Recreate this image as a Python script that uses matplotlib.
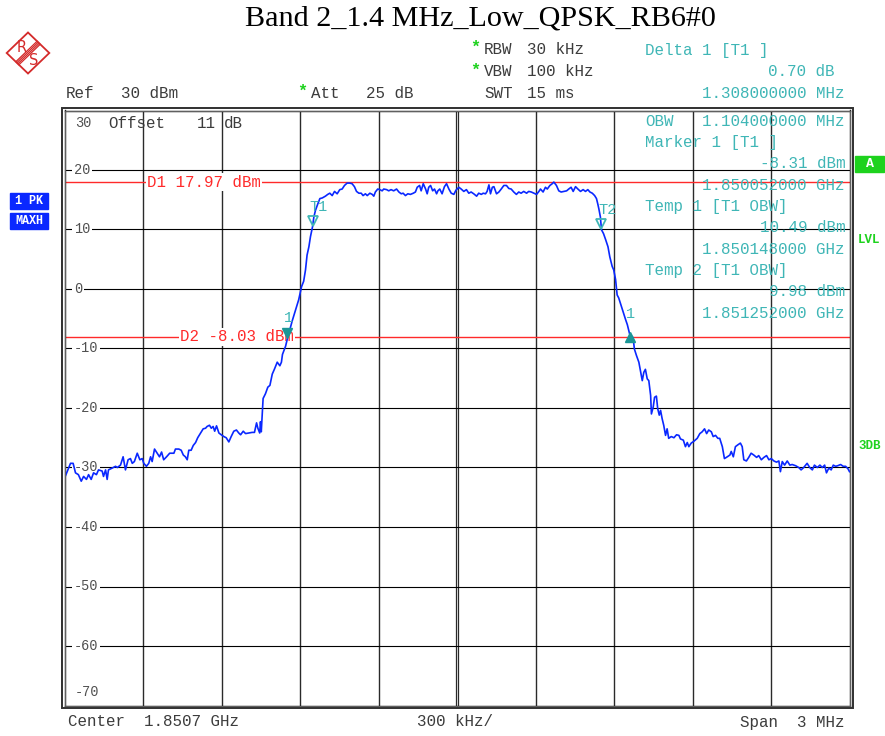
import numpy as np
import matplotlib
matplotlib.use("Agg")
import matplotlib.pyplot as plt
from matplotlib import transforms as mtrans
from matplotlib.patches import Polygon, Rectangle

# ---------------- data ----------------
title = "Band 2_1.4 MHz_Low_QPSK_RB6#0"
center_ghz = 1.8507
span_khz = 3000
div_khz = 300
y_ticks = [20, 10, 0, -10, -20, -30, -40, -50, -60]
y_top, y_bottom = 30, -70

# trace: frequency offset from centre (kHz) and level (dBm)
freq_khz = [
    -1500, -1477, -1467, -1458, -1447, -1436, -1427, -1416, -1408, -1398,
    -1389, -1378, -1370, -1356, -1351, -1343, -1337, -1332, -1318, -1305,
    -1298, -1286, -1276, -1267, -1257, -1248, -1241, -1233, -1222, -1212,
    -1203, -1197, -1187, -1178, -1171, -1165, -1156, -1146, -1137, -1129,
    -1121, -1110, -1098, -1082, -1076, -1063, -1054, -1046, -1038, -1031,
    -1025, -1016, -1008, -999, -991, -980, -970, -961, -955, -946,
    -939, -932, -926, -919, -910, -901, -891, -882, -872, -863,
    -853, -843, -834, -827, -817, -808, -796, -783, -774, -766,
    -761, -754, -751, -748, -741, -732, -723, -715, -706, -698,
    -687, -677, -671, -667, -655, -648, -630, -617, -605, -594,
    -586, -579, -573, -566, -560, -552, -547, -541, -532, -524,
    -515, -503, -494, -486, -477, -468, -458, -448, -439, -430,
    -420, -410, -401, -392, -384, -375, -366, -359, -350, -343,
    -333, -324, -318, -312, -303, -295, -286, -280, -269, -261,
    -252, -242, -231, -222, -213, -206, -197, -188, -178, -167,
    -159, -152, -143, -137, -129, -120, -114, -108, -101, -93,
    -86, -78, -73, -66, -57, -48, -40, -31, -22, -12,
    -4, 7, 16, 26, 36, 45, 54, 64, 75, 83,
    93, 100, 109, 115, 122, 128, 135, 141, 151, 160,
    169, 179, 189, 198, 207, 217, 227, 236, 245, 255,
    266, 274, 284, 294, 304, 313, 319, 329, 338, 345,
    355, 364, 370, 380, 389, 398, 408, 419, 427, 436,
    444, 453, 462, 472, 482, 491, 500, 508, 517, 526,
    533, 538, 542, 548, 552, 560, 568, 577, 584, 593,
    599, 606, 612, 618, 628, 638, 644, 651, 660, 673,
    678, 686, 695, 701, 708, 714, 720, 727, 733, 740,
    743, 750, 755, 762, 767, 773, 778, 784, 790, 797,
    803, 809, 819, 829, 839, 848, 854, 865, 873, 880,
    886, 895, 905, 918, 928, 937, 946, 954, 962, 972,
    979, 988, 997, 1004, 1014, 1022, 1033, 1043, 1048, 1056,
    1064, 1073, 1083, 1090, 1096, 1106, 1115, 1124, 1134, 1145,
    1153, 1163, 1173, 1183, 1192, 1201, 1211, 1221, 1230, 1236,
    1243, 1252, 1262, 1272, 1281, 1294, 1306, 1315, 1325, 1338,
    1348, 1358, 1366, 1377, 1387, 1396, 1405, 1412, 1421, 1430,
    1438, 1447, 1455, 1466, 1476, 1485, 1494, 1500,
]
level_dbm = [
    -31.8, -29.3, -29.3, -30.9, -31.2, -32.3, -31.5, -32.0, -31.2, -32.0,
    -30.9, -31.2, -30.4, -30.6, -31.5, -30.4, -32.0, -30.4, -30.1, -29.8,
    -30.0, -29.6, -28.2, -30.4, -28.7, -28.5, -29.3, -29.0, -27.6, -28.7,
    -28.5, -29.3, -29.8, -29.3, -28.2, -29.0, -26.9, -27.6, -28.2, -27.4,
    -28.7, -28.2, -27.6, -27.6, -26.9, -26.9, -27.1, -27.9, -28.2, -28.7,
    -27.1, -27.1, -26.3, -25.8, -25.0, -24.2, -23.5, -23.4, -23.1, -22.9,
    -23.4, -23.1, -23.9, -23.0, -24.2, -24.5, -24.8, -25.0, -25.7, -24.8,
    -23.9, -23.7, -24.2, -24.5, -23.9, -24.3, -24.2, -24.1, -24.1, -22.5,
    -23.4, -24.2, -22.3, -24.0, -18.4, -17.6, -16.5, -16.2, -14.3, -13.5,
    -12.3, -12.9, -12.3, -11.0, -9.6, -8.31, -5.4, -3.5, -1.8, 0.4,
    1.3, 3.2, 5.7, 7.1, 8.8, 10.49, 12.1, 13.2, 14.3, 15.2,
    15.3, 15.6, 15.9, 16.1, 15.7, 16.4, 16.0, 16.7, 16.8, 17.4,
    17.8, 17.8, 17.7, 17.2, 16.4, 16.1, 16.1, 15.7, 16.0, 15.7,
    16.1, 15.9, 15.6, 16.3, 16.8, 16.7, 16.5, 16.8, 16.7, 16.5,
    16.7, 16.5, 16.8, 16.3, 16.0, 16.1, 15.7, 16.0, 15.9, 16.1,
    16.3, 17.1, 17.4, 16.5, 17.7, 16.8, 16.0, 17.1, 17.4, 16.5,
    16.8, 16.0, 16.5, 16.8, 16.0, 17.2, 17.7, 16.8, 16.1, 15.9,
    16.6, 17.1, 16.8, 16.4, 16.7, 16.1, 16.3, 16.0, 15.6, 16.1,
    15.9, 16.1, 16.0, 16.4, 17.5, 16.0, 17.1, 17.2, 16.0, 16.3,
    16.8, 17.4, 17.4, 16.9, 16.8, 16.3, 15.9, 16.3, 16.1, 16.4,
    16.1, 16.4, 16.3, 16.1, 15.9, 16.4, 16.8, 16.3, 17.1, 16.8,
    17.4, 17.7, 17.97, 17.4, 16.5, 16.3, 16.4, 16.5, 16.8, 17.1,
    16.4, 17.2, 16.8, 16.4, 16.7, 16.4, 16.7, 16.3, 16.1, 15.7,
    15.2, 14.3, 13.5, 12.1, 9.98, 9.3, 8.3, 7.1, 5.4, 3.8,
    3.2, 1.6, -1.0, -1.5, -2.9, -4.3, -5.1, -6.0, -7.61, -8.2,
    -10.1, -11.2, -12.3, -13.7, -15.4, -14.0, -13.5, -15.1, -15.4, -17.9,
    -21.0, -19.8, -18.2, -18.0, -20.1, -21.2, -20.4, -21.8, -22.9, -24.6,
    -23.5, -25.1, -24.8, -25.0, -24.5, -24.6, -25.2, -25.4, -26.5, -25.8,
    -26.5, -25.9, -25.6, -25.1, -24.3, -24.0, -23.5, -24.3, -23.7, -24.0,
    -24.8, -24.6, -25.1, -25.1, -26.5, -28.5, -28.2, -27.9, -27.3, -28.2,
    -26.5, -26.2, -25.9, -26.5, -28.7, -28.9, -28.3, -27.6, -27.9, -28.3,
    -28.0, -28.7, -28.3, -28.0, -28.7, -28.5, -28.9, -29.1, -28.9, -30.7,
    -29.0, -29.6, -28.9, -29.6, -29.5, -29.7, -30.0, -30.4, -30.0, -29.3,
    -30.0, -30.4, -29.6, -30.0, -29.6, -30.0, -29.6, -30.9, -30.1, -30.4,
    -29.6, -29.8, -29.7, -29.5, -29.8, -29.8, -30.2, -30.7,
]

d1_level = 17.97
d2_level = -8.03
marker1_ghz, marker1_dbm = 1.850052, -8.31
delta1_mhz, delta1_db = 1.308, 0.70
temp1_ghz, temp1_dbm = 1.850148, 10.49
temp2_ghz, temp2_dbm = 1.851252, 9.98
obw_mhz = 1.104

# ---------------- style ----------------
MONO = "Liberation Mono"
GRAY = "#3c3c3c"
CYAN = "#3fb6b6"
TEAL = "#1a9696"
RED = "#ff2a2a"
BLUE = "#0a28ff"
GREEN = "#1ed21e"

W, H = 885, 736
fig = plt.figure(figsize=(W / 100, H / 100), dpi=100)
L, R, T, B = 64.5, 849.5, 110.5, 705.5
ax = fig.add_axes([L / W, (H - B) / H, (R - L) / W, (B - T) / H])
ax.set_xlim(-span_khz / 2, span_khz / 2)
ax.set_ylim(y_bottom, y_top)
ax.set_xticks([])
ax.set_yticks([])
for s in ax.spines.values():
    s.set_linewidth(1.0)
    s.set_color("#202020")

ov = fig.add_axes([0, 0, 1, 1], zorder=10)
ov.set_xlim(0, W)
ov.set_ylim(H, 0)
ov.axis("off")
ov.patch.set_alpha(0)


def off(x=0, y=0):
    return mtrans.offset_copy(ax.transData, fig=fig, x=x, y=y, units="dots")


# grid
for f in np.arange(-span_khz / 2 + div_khz, span_khz / 2, div_khz):
    if f == 0:
        for dpx in (-1.2, 1.2):
            ax.plot([0, 0], [y_bottom, y_top], color="#2a2a2a", lw=0.9, zorder=1,
                    transform=off(dpx, 0))
    else:
        ax.axvline(f, color="#2a2a2a", lw=1.0, zorder=1)
for yv in y_ticks:
    ax.axhline(yv, color="black", lw=0.8, zorder=1)

# outer double frame
ov.add_patch(Rectangle((62.3, 108.3), 790.2, 599.8, fill=False, ec="#303030", lw=1.4))
ov.add_patch(Rectangle((L, T), R - L, B - T, fill=False, ec="#606060", lw=0.8))

# y labels inside plot
blend = mtrans.blended_transform_factory(ov.transData, ax.transData)
for yv in y_ticks:
    ax.text(74, yv, str(yv), transform=blend,
            ha="left", va="center", fontsize=9.8, family=MONO, color="#505050",
            zorder=3, bbox=dict(facecolor="white", edgecolor="none", pad=1.2))
ov.text(75, 123, str(y_top), ha="left", va="center", fontsize=9.8, family=MONO, color="#505050")
ov.text(75, 692, str(y_bottom), ha="left", va="center", fontsize=9.8, family=MONO, color="#505050")

# display lines
ax.axhline(d1_level, color=RED, lw=1.0, zorder=2)
ax.axhline(d2_level, color=RED, lw=1.0, zorder=2)
ax.text(147, d1_level, f"D1 {d1_level:.2f} dBm", transform=blend, ha="left", va="center",
        fontsize=11.3, family=MONO, color=RED, zorder=3,
        bbox=dict(facecolor="white", edgecolor="none", pad=1.0))
ax.text(180, d2_level, f"D2 {d2_level:.2f} dBm", transform=blend, ha="left", va="center",
        fontsize=11.3, family=MONO, color=RED, zorder=3,
        bbox=dict(facecolor="white", edgecolor="none", pad=1.0))

# trace
ax.plot(freq_khz, level_dbm, color=BLUE, lw=1.2, zorder=4)


# markers
def khz(ghz):
    return (ghz - center_ghz) * 1e6


m1x = khz(marker1_ghz)
dx = m1x + delta1_mhz * 1e3
dlev = marker1_dbm + delta1_db
t1x, t2x = khz(temp1_ghz), khz(temp2_ghz)

ax.plot([m1x], [marker1_dbm], marker="v", ms=7.5, color=TEAL, ls="none", zorder=5, transform=off(0, 5))
ax.plot([dx], [dlev], marker="^", ms=7.5, color=TEAL, ls="none", zorder=5, transform=off(0, -3))
for tx, tl in ((t1x, temp1_dbm), (t2x, temp2_dbm)):
    ax.plot([tx], [tl], marker="v", ms=7, mfc="none", mec=CYAN, mew=1.3, ls="none",
            zorder=5, transform=off(0, 6))
lab_kw = dict(fontsize=11, family=MONO, color=CYAN, zorder=6, va="center")
ax.text(m1x, marker1_dbm, "1", ha="center", transform=off(1, 20), **lab_kw)
ax.text(dx, dlev, "1", ha="center", transform=off(1, 20), **lab_kw)
ax.text(t1x, temp1_dbm, "T1", ha="center", transform=off(6, 20), **lab_kw)
ax.text(t2x, temp2_dbm, "T2", ha="center", transform=off(6, 20), **lab_kw)

# ---------------- header / text ----------------
ov.text(480, 18, title, ha="center", va="center", fontsize=21.7, family="Liberation Serif", color="black")

tk = dict(fontsize=11.4, family=MONO, va="center")
star = dict(color=GREEN, ha="center", fontsize=12, family=MONO, va="center", fontweight="bold")
ov.text(66, 93, "Ref", color=GRAY, ha="left", **tk)
ov.text(121, 93, "30 dBm", color=GRAY, ha="left", **tk)
ov.text(302, 91, "*", **star)
ov.text(311, 93, "Att", color=GRAY, ha="left", **tk)
ov.text(366, 93, "25 dB", color=GRAY, ha="left", **tk)
ov.text(475, 47, "*", **star)
ov.text(475, 70, "*", **star)
ov.text(484, 49, "RBW", color=GRAY, ha="left", **tk)
ov.text(527, 49, "30 kHz", color=GRAY, ha="left", **tk)
ov.text(484, 72, "VBW", color=GRAY, ha="left", **tk)
ov.text(527, 72, "100 kHz", color=GRAY, ha="left", **tk)
ov.text(484, 93, "SWT", color=GRAY, ha="left", **tk)
ov.text(527, 93, "15 ms", color=GRAY, ha="left", **tk)

ov.text(645, 51, "Delta 1 [T1 ]", color=CYAN, ha="left", **tk)
ov.text(835, 72, f"{delta1_db:.2f} dB", color=CYAN, ha="right", **tk)
ov.text(845, 93, f"{delta1_mhz:.9f} MHz", color=CYAN, ha="right", **tk)

ov.text(645, 122, "OBW", color=CYAN, ha="left", **tk)
ov.text(845, 122, f"{obw_mhz:.9f} MHz", color=CYAN, ha="right", **tk)
ov.text(645, 143, "Marker 1 [T1 ]", color=CYAN, ha="left", **tk)
ov.text(845, 164, f"{marker1_dbm:.2f} dBm", color=CYAN, ha="right", **tk)
ov.text(845, 186, f"{marker1_ghz:.9f} GHz", color=CYAN, ha="right", **tk)
ov.text(645, 207, "Temp 1 [T1 OBW]", color=CYAN, ha="left", **tk)
ov.text(845, 228, f"{temp1_dbm:.2f} dBm", color=CYAN, ha="right", **tk)
ov.text(845, 250, f"{temp1_ghz:.9f} GHz", color=CYAN, ha="right", **tk)
ov.text(645, 271, "Temp 2 [T1 OBW]", color=CYAN, ha="left", **tk)
ov.text(845, 292, f"{temp2_dbm:.2f} dBm", color=CYAN, ha="right", **tk)
ov.text(845, 314, f"{temp2_ghz:.9f} GHz", color=CYAN, ha="right", **tk)

ov.text(108, 123, "Offset", color=GRAY, ha="left", **tk)
ov.text(197, 123, "11", color=GRAY, ha="left", **tk)
ov.text(224, 123, "dB", color=GRAY, ha="left", **tk)

ov.text(68, 722, f"Center  {center_ghz:.4f} GHz", color=GRAY, ha="left", **tk)
ov.text(417, 722, f"{div_khz} kHz/", color=GRAY, ha="left", **tk)
ov.text(845, 722, f"Span  {span_khz / 1000:.0f} MHz", color=GRAY, ha="right", **tk)

# side labels
ov.add_patch(Rectangle((10, 193), 38, 16, color=BLUE))
ov.add_patch(Rectangle((10, 213), 38, 16, color=BLUE))
ov.text(29, 201.5, "1 PK", color="white", ha="center", va="center", fontsize=8.5, family=MONO, fontweight="bold")
ov.text(29, 221, "MAXH", color="white", ha="center", va="center", fontsize=8.5, family=MONO, fontweight="bold")
ov.add_patch(Rectangle((855, 156), 29, 16, color=GREEN))
ov.text(869.5, 164, "A", color="white", ha="center", va="center", fontsize=9.5, family=MONO, fontweight="bold")
ov.text(858, 240, "LVL", color=GREEN, ha="left", va="center", fontsize=9, family=MONO, fontweight="bold")
ov.text(858, 446, "3DB", color=GREEN, ha="left", va="center", fontsize=9, family=MONO, fontweight="bold")

# R&S logo
LOGO = "#d42a2a"
cx, cy, hw, hh = 28, 53, 21.3, 20.5
ov.add_patch(Polygon([(cx, cy - hh), (cx + hw, cy), (cx, cy + hh), (cx - hw, cy)],
                     closed=True, fill=False, ec=LOGO, lw=1.3))
for k in (-2.2, -0.75, 0.75, 2.2):
    ov.plot([cx - hw / 2 + k * 0.7, cx + hw / 2 + k * 0.7],
            [cy + hh / 2 + k * 0.7, cy - hh / 2 + k * 0.7], color=LOGO, lw=0.9)
ov.text(cx - 6.5, cy - 5.5, "R", color=LOGO, ha="center", va="center", fontsize=10.5, family="DejaVu Sans")
ov.text(cx + 5.5, cy + 7.5, "S", color=LOGO, ha="center", va="center", fontsize=10.5, family="DejaVu Sans")

fig.savefig("out.png", dpi=100)
